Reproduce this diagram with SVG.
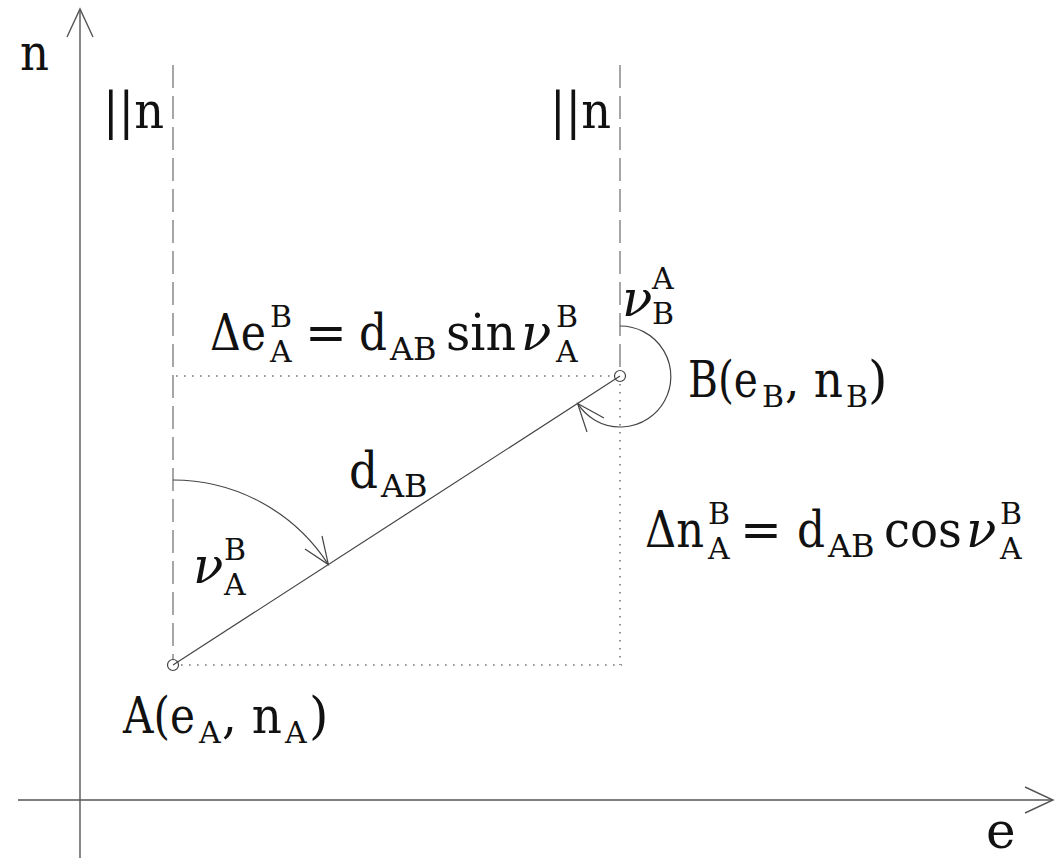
<svg xmlns="http://www.w3.org/2000/svg" width="1057" height="860" viewBox="0 0 1057 860">
<style>
  text { font-family: 'DejaVu Serif', 'Liberation Serif', serif; fill: #111; font-size: 50px; }
  .s { font-size: 30px; }
  .s2 { font-size: 32px; }
  .it { font-style: italic; }
  .axis { stroke: #555; stroke-width: 1.4; fill: none; }
  .dash { stroke: #808080; stroke-width: 1.4; stroke-dasharray: 23 8; fill: none; }
  .dot { stroke: #777; stroke-width: 1.6; stroke-dasharray: 1.6 6.4; fill: none; }
  .thin { stroke: #444; stroke-width: 1.2; fill: none; }
  .pt { stroke: #444; stroke-width: 1.2; fill: none; }
</style>
<rect width="1057" height="860" fill="#fff"/>

<g id="axes">
  <line class="axis" x1="80" y1="858" x2="80" y2="9"/>
  <polyline class="axis" points="67,37 80,9 93,37"/>
  <line class="axis" x1="18" y1="800" x2="1053" y2="800"/>
  <polyline class="axis" points="1025,787 1053,800 1025,813"/>
  <text x="20" y="70" textLength="29" lengthAdjust="spacingAndGlyphs">n</text>
  <text x="986" y="848">e</text>
</g>

<g id="connectors">
  <line class="dash" x1="173" y1="65" x2="173" y2="660"/>
  <line class="dash" x1="620" y1="65" x2="620" y2="371"/>
  <line class="dot" x1="181" y1="665" x2="622" y2="665"/>
  <line class="dot" x1="176" y1="376" x2="614" y2="376"/>
  <line class="dot" x1="620" y1="384" x2="620" y2="665"/>
  <line class="thin" x1="173" y1="665" x2="620" y2="376"/>
  <path class="thin" d="M173,480 A185,185 0 0 1 328.4,564.6"/>
  <polyline class="thin" points="305,549 328.4,564.6 322,536"/>
  <path class="thin" d="M620,326 A50.5,50.5 0 1 1 577.6,403.4"/>
  <polyline class="thin" points="604,418 577.6,403.4 587,432"/>
</g>

<g id="pointA">
  <circle class="pt" cx="173" cy="665" r="5.5"/>
  <text><tspan x="123" y="733" textLength="72" lengthAdjust="spacingAndGlyphs">A(e</tspan><tspan class="s" x="199" y="743">A</tspan><tspan x="222" y="733" textLength="60" lengthAdjust="spacingAndGlyphs">, n</tspan><tspan class="s" x="285" y="743">A</tspan><tspan x="309" y="733">)</tspan></text>
</g>

<g id="pointB">
  <circle class="pt" cx="620" cy="376" r="5.5"/>
  <text><tspan x="688" y="397" textLength="70" lengthAdjust="spacingAndGlyphs">B(e</tspan><tspan class="s" x="762" y="407">B</tspan><tspan x="785" y="397" textLength="58" lengthAdjust="spacingAndGlyphs">, n</tspan><tspan class="s" x="846" y="407">B</tspan><tspan x="868" y="397">)</tspan></text>
</g>

<g id="parallel-left">
  <text x="103" y="128" textLength="61" lengthAdjust="spacingAndGlyphs">||n</text>
</g>
<g id="parallel-right">
  <text x="550" y="128" textLength="61" lengthAdjust="spacingAndGlyphs">||n</text>
</g>

<g id="delta-e">
  <text><tspan x="210" y="350" textLength="56" lengthAdjust="spacingAndGlyphs">Δe</tspan><tspan class="s" x="270" y="327">B</tspan><tspan class="s" x="270" y="362">A</tspan><tspan x="305" y="350">=</tspan><tspan x="359" y="350" textLength="28" lengthAdjust="spacingAndGlyphs">d</tspan><tspan class="s2" x="390" y="360">AB</tspan><tspan x="446" y="350" textLength="70" lengthAdjust="spacingAndGlyphs">sin</tspan><tspan class="it" x="521" y="350">ν</tspan><tspan class="s" x="556" y="327">B</tspan><tspan class="s" x="556" y="362">A</tspan></text>
</g>

<g id="delta-n">
  <text><tspan x="645" y="547" textLength="59" lengthAdjust="spacingAndGlyphs">Δn</tspan><tspan class="s" x="708" y="524">B</tspan><tspan class="s" x="708" y="559">A</tspan><tspan x="740" y="547">=</tspan><tspan x="797" y="547" textLength="28" lengthAdjust="spacingAndGlyphs">d</tspan><tspan class="s2" x="828" y="557">AB</tspan><tspan x="884" y="547" textLength="78" lengthAdjust="spacingAndGlyphs">cos</tspan><tspan class="it" x="966" y="547">ν</tspan><tspan class="s" x="1000" y="524">B</tspan><tspan class="s" x="1000" y="559">A</tspan></text>
</g>

<g id="d-AB">
  <text><tspan x="349" y="488" textLength="29" lengthAdjust="spacingAndGlyphs">d</tspan><tspan class="s2" x="381" y="497">AB</tspan></text>
</g>

<g id="nu-A-B">
  <text><tspan class="it" x="193" y="583">ν</tspan><tspan class="s" x="224" y="560">B</tspan><tspan class="s" x="224" y="595">A</tspan></text>
</g>

<g id="nu-B-A">
  <text><tspan class="it" x="622" y="316">ν</tspan><tspan class="s" x="652" y="289">A</tspan><tspan class="s" x="652" y="324">B</tspan></text>
</g>
</svg>
